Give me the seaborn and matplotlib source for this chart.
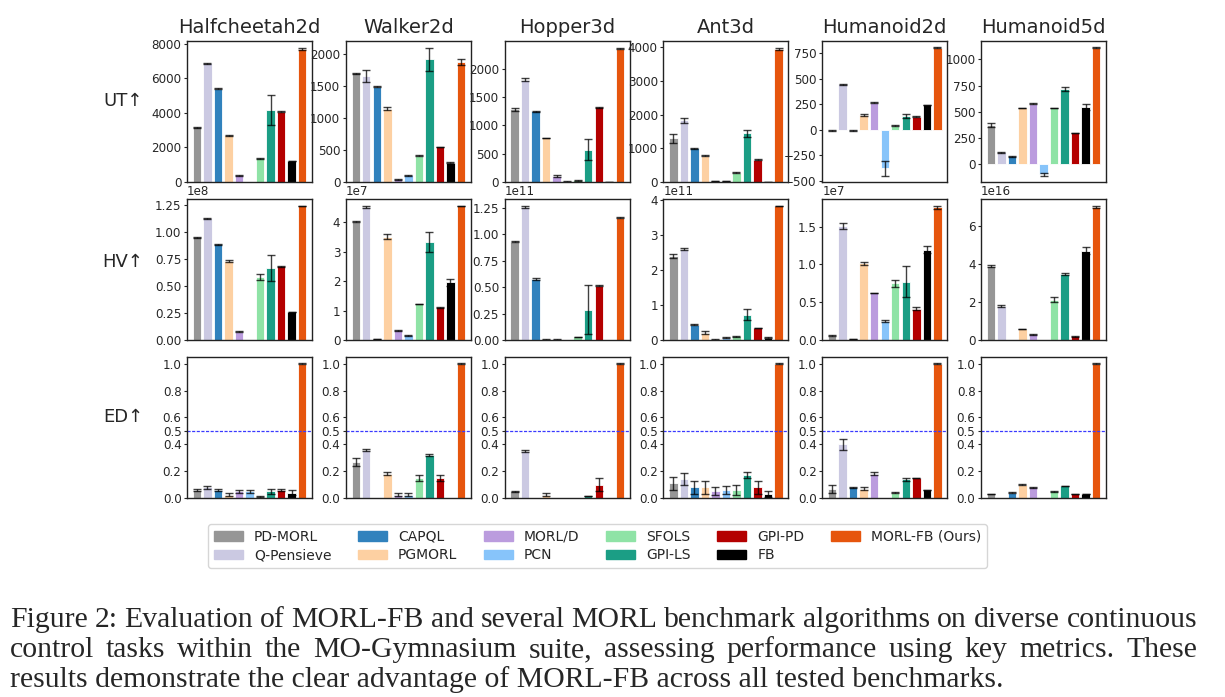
import numpy as np
import pandas as pd
import matplotlib
matplotlib.use("Agg")
import matplotlib.pyplot as plt
import matplotlib.patches as mpatches
from matplotlib.ticker import MaxNLocator
import seaborn as sns

# algoritmos e cores
algorithms = ["PD-MORL", "Q-Pensieve", "CAPQL", "PGMORL", "MORL/D", "PCN",
              "SFOLS", "GPI-LS", "GPI-PD", "FB", "MORL-FB (Ours)"]
colors = ["#969696", "#cbc9e2", "#3182bd", "#fdd0a2", "#bb9cde", "#87c4fa",
          "#8fe3a6", "#1b9e85", "#b40000", "#000000", "#e6550d"]

envs = ["Halfcheetah2d", "Walker2d", "Hopper3d", "Ant3d", "Humanoid2d", "Humanoid5d"]
metrics = ["UT↑", "HV↑", "ED↑"]

# UT
ut_halfcheetah = [3160, 6850, 5390, 2710, 390, 0, 1380, 4150, 4070, 1240, 7690]
ut_halfcheetah_err = [40, 20, 20, 30, 40, 0, 30, 860, 20, 0, 70]
ut_walker = [1703, 1660, 1490, 1150, 47, 104, 411, 1922, 547, 302, 1875]
ut_walker_err = [10, 90, 8, 20, 8, 5, 8, 180, 0, 10, 45]
ut_hopper = [1282, 1806, 1247, 776, 106, 12, 30, 570, 1318, 6, 2353]
ut_hopper_err = [25, 30, 10, 5, 10, 8, 10, 180, 10, 3, 15]
ut_ant = [1290, 1825, 1000, 785, 30, 40, 278, 1440, 665, 10, 3940]
ut_ant_err = [125, 85, 10, 10, 5, 5, 10, 100, 5, 3, 40]
ut_humanoid2d = [-7, 447, -7, 148, 266, -378, 39, 138, 131, 240, 806]
ut_humanoid2d_err = [3, 5, 3, 8, 5, 70, 5, 18, 3, 0, 3]
ut_humanoid5d = [375, 115, 77, 538, 577, -96, 538, 718, 298, 548, 1112]
ut_humanoid5d_err = [15, 5, 5, 3, 3, 12, 3, 22, 3, 28, 3]

# HV
hv_halfcheetah = [0.951e8, 1.127e8, 0.886e8, 0.728e8, 0.077e8, 0, 0.583e8, 0.667e8, 0.682e8, 0.256e8, 1.24e8]
hv_halfcheetah_err = [0.003e8, 0.003e8, 0.003e8, 0.01e8, 0.005e8, 0, 0.03e8, 0.12e8, 0.003e8, 0, 0.003e8]
hv_walker = [4.02e7, 4.53e7, 0.03e7, 3.52e7, 0.33e7, 0.16e7, 1.22e7, 3.34e7, 1.11e7, 1.97e7, 4.56e7]
hv_walker_err = [0.02e7, 0.03e7, 0, 0.08e7, 0.02e7, 0.01e7, 0.01e7, 0.33e7, 0.01e7, 0.12e7, 0.01e7]
hv_hopper = [0.927e11, 1.256e11, 0.573e11, 0.006e11, 0.006e11, 0, 0.028e11, 0.288e11, 0.513e11, 0, 1.155e11]
hv_hopper_err = [0.003e11, 0.012e11, 0.01e11, 0.002e11, 0.002e11, 0, 0.003e11, 0.23e11, 0.003e11, 0, 0.003e11]
hv_ant = [2.41e11, 2.60e11, 0.44e11, 0.21e11, 0.01e11, 0.07e11, 0.11e11, 0.72e11, 0.345e11, 0.07e11, 3.84e11]
hv_ant_err = [0.05e11, 0.03e11, 0.01e11, 0.05e11, 0.005e11, 0.01e11, 0.01e11, 0.16e11, 0.01e11, 0.005e11, 0.01e11]
hv_humanoid2d = [0.058e7, 1.51e7, 0.013e7, 1.013e7, 0.62e7, 0.252e7, 0.748e7, 0.774e7, 0.416e7, 1.195e7, 1.757e7]
hv_humanoid2d_err = [0.003e7, 0.04e7, 0.002e7, 0.02e7, 0.003e7, 0.012e7, 0.045e7, 0.2e7, 0.025e7, 0.045e7, 0.02e7]
hv_humanoid5d = [3.91e16, 1.79e16, 0, 0.58e16, 0.30e16, 0, 2.12e16, 3.47e16, 0.19e16, 4.70e16, 7.0e16]
hv_humanoid5d_err = [0.05e16, 0.03e16, 0, 0.02e16, 0.02e16, 0, 0.12e16, 0.03e16, 0.01e16, 0.17e16, 0.06e16]

# ED
ed_halfcheetah = [0.06, 0.08, 0.06, 0.025, 0.05, 0.05, 0.01, 0.05, 0.06, 0.04, 1.0]
ed_halfcheetah_err = [0.01, 0.01, 0.008, 0.01, 0.01, 0.01, 0.006, 0.02, 0.008, 0.02, 0.002]
ed_walker = [0.27, 0.36, 0, 0.18, 0.025, 0.025, 0.15, 0.32, 0.15, 0, 1.0]
ed_walker_err = [0.03, 0.008, 0, 0.01, 0.01, 0.01, 0.02, 0.008, 0.02, 0, 0.002]
ed_hopper = [0.05, 0.35, 0, 0.025, 0, 0, 0, 0.015, 0.10, 0, 1.0]
ed_hopper_err = [0.002, 0.01, 0, 0.01, 0, 0, 0, 0.002, 0.05, 0, 0.002]
ed_ant = [0.11, 0.14, 0.08, 0.08, 0.05, 0.06, 0.06, 0.17, 0.08, 0.03, 1.0]
ed_ant_err = [0.05, 0.045, 0.05, 0.05, 0.03, 0.03, 0.04, 0.02, 0.05, 0.02, 0.002]
ed_humanoid2d = [0.07, 0.40, 0.08, 0.07, 0.18, 0, 0.04, 0.14, 0.15, 0.06, 1.0]
ed_humanoid2d_err = [0.03, 0.04, 0.002, 0.01, 0.01, 0, 0.002, 0.01, 0.002, 0.002, 0.002]
ed_humanoid5d = [0.03, 0, 0.04, 0.10, 0.08, 0, 0.05, 0.09, 0.03, 0.03, 1.0]
ed_humanoid5d_err = [0.002, 0, 0.002, 0.002, 0.002, 0, 0.003, 0.002, 0.002, 0.002, 0.002]

values = [
    [ut_halfcheetah, ut_walker, ut_hopper, ut_ant, ut_humanoid2d, ut_humanoid5d],
    [hv_halfcheetah, hv_walker, hv_hopper, hv_ant, hv_humanoid2d, hv_humanoid5d],
    [ed_halfcheetah, ed_walker, ed_hopper, ed_ant, ed_humanoid2d, ed_humanoid5d],
]
errors = [
    [ut_halfcheetah_err, ut_walker_err, ut_hopper_err, ut_ant_err, ut_humanoid2d_err, ut_humanoid5d_err],
    [hv_halfcheetah_err, hv_walker_err, hv_hopper_err, hv_ant_err, hv_humanoid2d_err, hv_humanoid5d_err],
    [ed_halfcheetah_err, ed_walker_err, ed_hopper_err, ed_ant_err, ed_humanoid2d_err, ed_humanoid5d_err],
]

caption = [
    "Figure 2: Evaluation of MORL-FB and several MORL benchmark algorithms on diverse continuous",
    "control tasks within the MO-Gymnasium suite, assessing performance using key metrics.  These",
    "results demonstrate the clear advantage of MORL-FB across all tested benchmarks.",
]

sns.set_style("ticks")
plt.rcParams["font.family"] = ["DejaVu Sans"]

fig, axes = plt.subplots(3, 6, figsize=(12.25, 6.97), dpi=100)
fig.subplots_adjust(left=0.1527, right=0.9029, top=0.9412, bottom=0.2855,
                    wspace=0.27, hspace=0.12)

palette = dict(zip(algorithms, colors))
pos = np.arange(len(algorithms))

for i in range(3):
    for j in range(6):
        ax = axes[i, j]
        df = pd.DataFrame({"algo": algorithms, "value": values[i][j], "err": errors[i][j]})
        sns.barplot(data=df, x="algo", y="value", hue="algo", order=algorithms,
                    palette=palette, saturation=1, width=0.8, legend=False,
                    edgecolor="white", linewidth=0.6, ax=ax)
        mask = (df["value"] != 0) | (df["err"] != 0)
        ax.errorbar(pos[mask], df["value"][mask], yerr=df["err"][mask], fmt="none",
                    ecolor="black", elinewidth=1, capsize=2.7, alpha=0.75)
        ax.set_xlim(-0.94, 10.94)
        ax.set_xticks([])
        ax.set_xlabel("")
        ax.set_ylabel("")
        ax.yaxis.set_major_locator(MaxNLocator(nbins=6, steps=[1, 2, 2.5, 5, 10]))
        ax.tick_params(axis="y", labelsize=8.6, length=2.5, pad=1.5)
        ax.yaxis.get_offset_text().set_fontsize(8.6)
        for s in ax.spines.values():
            s.set_color("#222222")
            s.set_linewidth(1)
        if i == 0:
            ax.set_title(envs[j], fontsize=14)
        if i == 2:
            ax.axhline(0.5, color="#3a3aff", linestyle=(0, (2.5, 1.2)), linewidth=0.9)
            ax.set_yticks([0.0, 0.2, 0.4, 0.5, 0.6, 0.8, 1.0])
            ax.set_ylim(0, 1.05)

row_y = [101, 262, 417]
for i, m in enumerate(metrics):
    fig.text(123 / 1225, 1 - row_y[i] / 697, m, fontsize=13, ha="center", va="center")

handles = [mpatches.Patch(color=c, label=a) for a, c in zip(algorithms, colors)]
fig.legend(handles=handles, ncol=6, loc="center", bbox_to_anchor=(597.5 / 1225, 1 - 546 / 697),
           fontsize=10, handlelength=2.1, handletextpad=0.8, columnspacing=1.9,
           labelspacing=0.35, frameon=True)

# legenda da figura, justificada nas duas primeiras linhas
renderer = fig.canvas.get_renderer()
x0, x1 = 10, 1197
cap_size = 21.4
for k, line in enumerate(caption):
    y = 1 - (627 + 30 * k) / 697
    if k == len(caption) - 1:
        fig.text(x0 / 1225, y, line, fontsize=cap_size, family="Liberation Serif",
                 ha="left", va="baseline")
        continue
    words = line.split()
    texts = [fig.text(0, y, w, fontsize=cap_size, family="Liberation Serif",
                      ha="left", va="baseline") for w in words]
    widths = [t.get_window_extent(renderer).width for t in texts]
    gap = (x1 - x0 - sum(widths)) / (len(words) - 1)
    x = x0
    for t, w in zip(texts, widths):
        t.set_x(x / 1225)
        x += w + gap

fig.savefig("out.png", dpi=100)
